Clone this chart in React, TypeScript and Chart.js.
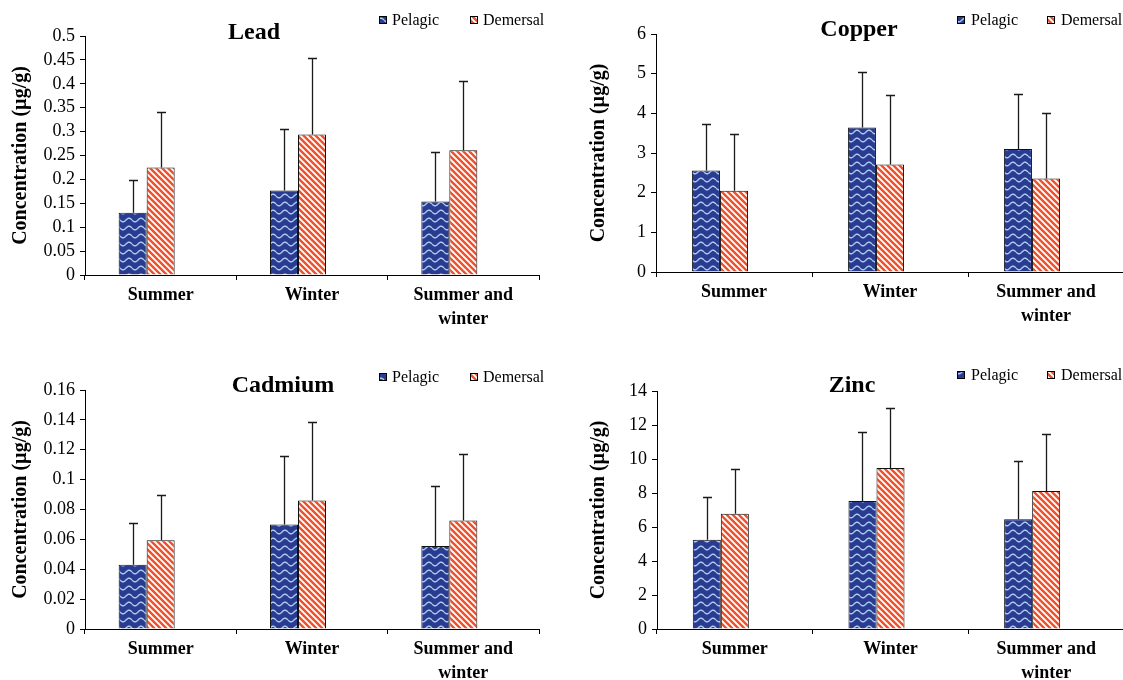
import React, { useEffect, useRef } from "react";
import { Chart, registerables } from "chart.js";

Chart.register(...registerables);

const FONT = '"Liberation Serif", "Times New Roman", serif';

const categories: (string | string[])[] = ["Summer", "Winter", ["Summer and", "winter"]];
const seriesNames = ["Pelagic", "Demersal"];
const yTitle = "Concentration (µg/g)";

// Lead
const leadPelagic = [0.13, 0.177, 0.154];
const leadPelagicSD = [0.068, 0.129, 0.104];
const leadDemersal = [0.225, 0.294, 0.261];
const leadDemersalSD = [0.116, 0.161, 0.144];
const leadTicks = [0, 0.05, 0.1, 0.15, 0.2, 0.25, 0.3, 0.35, 0.4, 0.45, 0.5];

// Copper
const copperPelagic = [2.56, 3.64, 3.1];
const copperPelagicSD = [1.18, 1.4, 1.38];
const copperDemersal = [2.05, 2.71, 2.36];
const copperDemersalSD = [1.44, 1.75, 1.66];
const copperTicks = [0, 1, 2, 3, 4, 5, 6];

// Cadmium
const cadmiumPelagic = [0.043, 0.07, 0.0555];
const cadmiumPelagicSD = [0.028, 0.046, 0.04];
const cadmiumDemersal = [0.0594, 0.0861, 0.0726];
const cadmiumDemersalSD = [0.03, 0.0524, 0.0444];
const cadmiumTicks = [0, 0.02, 0.04, 0.06, 0.08, 0.1, 0.12, 0.14, 0.16];

// Zinc
const zincPelagic = [5.25, 7.53, 6.45];
const zincPelagicSD = [2.53, 4.06, 3.45];
const zincDemersal = [6.78, 9.47, 8.12];
const zincDemersalSD = [2.61, 3.53, 3.37];
const zincTicks = [0, 2, 4, 6, 8, 10, 12, 14];

type Panel = {
  title: string;
  pelagic: number[];
  pelagicSD: number[];
  demersal: number[];
  demersalSD: number[];
  ticks: number[];
  pos: { left: number; top: number; width: number; height: number };
  area: { left: number; right: number; top: number; bottom: number };
  titleXY: [number, number];
  legendY: number;
  legendX: [number, number, number, number];
  yTitlePad: number;
  catPct: number;
};

const panels: Panel[] = [
  {
    title: "Lead",
    pelagic: leadPelagic, pelagicSD: leadPelagicSD,
    demersal: leadDemersal, demersalSD: leadDemersalSD,
    ticks: leadTicks,
    pos: { left: 0, top: 0, width: 560, height: 340 },
    area: { left: 85, right: 539, top: 36, bottom: 275 },
    titleXY: [254, 33], legendY: 20, legendX: [379, 392, 470, 483],
    yTitlePad: 9, catPct: 0.555,
  },
  {
    title: "Copper",
    pelagic: copperPelagic, pelagicSD: copperPelagicSD,
    demersal: copperDemersal, demersalSD: copperDemersalSD,
    ticks: copperTicks,
    pos: { left: 560, top: 0, width: 590, height: 340 },
    area: { left: 96, right: 564, top: 34, bottom: 272 },
    titleXY: [299, 30], legendY: 20, legendX: [397, 411, 487, 501],
    yTitlePad: 27, catPct: 0.54,
  },
  {
    title: "Cadmium",
    pelagic: cadmiumPelagic, pelagicSD: cadmiumPelagicSD,
    demersal: cadmiumDemersal, demersalSD: cadmiumDemersalSD,
    ticks: cadmiumTicks,
    pos: { left: 0, top: 360, width: 560, height: 320 },
    area: { left: 85, right: 539, top: 30, bottom: 269 },
    titleXY: [283, 26], legendY: 17, legendX: [379, 392, 470, 483],
    yTitlePad: 9, catPct: 0.555,
  },
  {
    title: "Zinc",
    pelagic: zincPelagic, pelagicSD: zincPelagicSD,
    demersal: zincDemersal, demersalSD: zincDemersalSD,
    ticks: zincTicks,
    pos: { left: 560, top: 360, width: 590, height: 320 },
    area: { left: 97, right: 564, top: 31, bottom: 269 },
    titleXY: [292, 26], legendY: 15, legendX: [397, 411, 487, 501],
    yTitlePad: 27, catPct: 0.54,
  },
];

function makeWave(ctx: CanvasRenderingContext2D): CanvasPattern {
  const c = document.createElement("canvas");
  c.width = 12;
  c.height = 8;
  const g = c.getContext("2d")!;
  g.fillStyle = "#2c3a92";
  g.fillRect(0, 0, 12, 8);
  g.strokeStyle = "#a3d2ec";
  g.lineWidth = 1.4;
  g.beginPath();
  for (let x = 0; x <= 12; x += 0.5) {
    const y = 4 + 1.8 * Math.sin((x / 12) * 2 * Math.PI);
    if (x === 0) g.moveTo(x, y);
    else g.lineTo(x, y);
  }
  g.stroke();
  return ctx.createPattern(c, "repeat")!;
}

function makeStripes(ctx: CanvasRenderingContext2D): CanvasPattern {
  const s = 6;
  const c = document.createElement("canvas");
  c.width = s;
  c.height = s;
  const g = c.getContext("2d")!;
  g.fillStyle = "#ffffff";
  g.fillRect(0, 0, s, s);
  g.strokeStyle = "#f2502a";
  g.lineWidth = 2.4;
  g.beginPath();
  for (let k = -1; k <= 1; k++) {
    g.moveTo(k * s - 1, -1);
    g.lineTo(k * s + s + 1, s + 1);
  }
  g.stroke();
  return ctx.createPattern(c, "repeat")!;
}

function PanelChart({ p }: { p: Panel }) {
  const ref = useRef<HTMLCanvasElement>(null);
  useEffect(() => {
    const canvas = ref.current!;
    const ctx0 = canvas.getContext("2d")!;
    const wave = makeWave(ctx0);
    const stripes = makeStripes(ctx0);
    const sds = [p.pelagicSD, p.demersalSD];

    const overlay = {
      id: "overlay",
      afterDatasetsDraw(chart: any) {
        const ctx = chart.ctx as CanvasRenderingContext2D;
        const ys = chart.scales.y;
        ctx.save();
        ctx.strokeStyle = "#1a1a1a";
        ctx.lineWidth = 1.3;
        [0, 1].forEach((di) => {
          const meta = chart.getDatasetMeta(di);
          const vals = chart.data.datasets[di].data as number[];
          meta.data.forEach((el: any, j: number) => {
            const x = Math.round(el.x) + 0.5;
            const y0 = el.y;
            const y1 = Math.round(ys.getPixelForValue(vals[j] + sds[di][j])) + 0.5;
            ctx.beginPath();
            ctx.moveTo(x, y0);
            ctx.lineTo(x, y1);
            ctx.moveTo(x - 4.5, y1);
            ctx.lineTo(x + 4.5, y1);
            ctx.stroke();
          });
        });
        ctx.restore();
      },
      afterDraw(chart: any) {
        const ctx = chart.ctx as CanvasRenderingContext2D;
        ctx.save();
        ctx.fillStyle = "#000";
        ctx.textBaseline = "middle";
        ctx.textAlign = "center";
        ctx.font = `bold 24px ${FONT}`;
        ctx.fillText(p.title, p.titleXY[0], p.titleXY[1]);
        ctx.font = `16px ${FONT}`;
        ctx.textAlign = "left";
        [wave, stripes].forEach((pat, i) => {
          const sx = p.legendX[i * 2];
          ctx.fillStyle = pat;
          ctx.fillRect(sx, p.legendY - 4, 8, 8);
          ctx.strokeStyle = "#000";
          ctx.lineWidth = 1;
          ctx.strokeRect(sx + 0.5, p.legendY - 3.5, 7, 7);
          ctx.fillStyle = "#000";
          ctx.fillText(seriesNames[i], p.legendX[i * 2 + 1], p.legendY + 1);
        });
        ctx.restore();
      },
    };

    const chart = new Chart(canvas, {
      type: "bar",
      data: {
        labels: categories as any,
        datasets: [
          { label: seriesNames[0], data: p.pelagic, backgroundColor: wave as any, borderColor: "#111", borderWidth: 1 },
          { label: seriesNames[1], data: p.demersal, backgroundColor: stripes as any, borderColor: "#111", borderWidth: 1 },
          { label: "", data: [null, null, null] as any },
        ],
      },
      options: {
        responsive: false,
        animation: false,
        devicePixelRatio: 1,
        layout: {
          padding: { top: p.area.top, left: 0, right: p.pos.width - p.area.right, bottom: 0 },
        },
        datasets: { bar: { categoryPercentage: p.catPct, barPercentage: 1 } },
        plugins: {
          legend: { display: false },
          tooltip: { enabled: false },
          title: { display: false },
        },
        scales: {
          x: {
            type: "category",
            offset: true,
            grid: { offset: true, drawOnChartArea: false, drawTicks: true, tickLength: 5, color: "#000" },
            border: { display: true, color: "#000", width: 1 },
            ticks: {
              color: "#000",
              font: { family: FONT, size: 18, weight: "bold", lineHeight: 1.3 },
              padding: 4,
              maxRotation: 0,
              autoSkip: false,
            },
            afterFit: (s: any) => {
              s.height = p.pos.height - p.area.bottom;
            },
          },
          y: {
            type: "linear",
            min: p.ticks[0],
            max: p.ticks[p.ticks.length - 1],
            afterBuildTicks: (s: any) => {
              s.ticks = p.ticks.map((v) => ({ value: v }));
            },
            grid: { drawOnChartArea: false, drawTicks: true, tickLength: 5, color: "#000" },
            border: { display: true, color: "#000", width: 1 },
            ticks: {
              color: "#000",
              font: { family: FONT, size: 18 },
              padding: 5,
              autoSkip: false,
              callback: (v: any) => String(v),
            },
            title: {
              display: true,
              text: yTitle,
              color: "#000",
              font: { family: FONT, size: 20, weight: "bold" },
              padding: { top: p.yTitlePad, bottom: 0 },
            },
            afterFit: (s: any) => {
              s.width = p.area.left;
            },
          },
        },
      } as any,
      plugins: [overlay],
    });
    return () => chart.destroy();
  }, [p]);

  return (
    <div
      style={{
        position: "absolute",
        left: p.pos.left,
        top: p.pos.top,
        width: p.pos.width,
        height: p.pos.height,
      }}
    >
      <canvas
        ref={ref}
        width={p.pos.width}
        height={p.pos.height}
        style={{ display: "block", width: p.pos.width, height: p.pos.height }}
      />
    </div>
  );
}

export default function App() {
  return (
    <div
      style={{
        position: "fixed",
        left: 0,
        top: 0,
        width: 1123,
        height: 680,
        overflow: "hidden",
        background: "#fff",
      }}
    >
      {panels.map((p) => (
        <PanelChart key={p.title} p={p} />
      ))}
    </div>
  );
}
